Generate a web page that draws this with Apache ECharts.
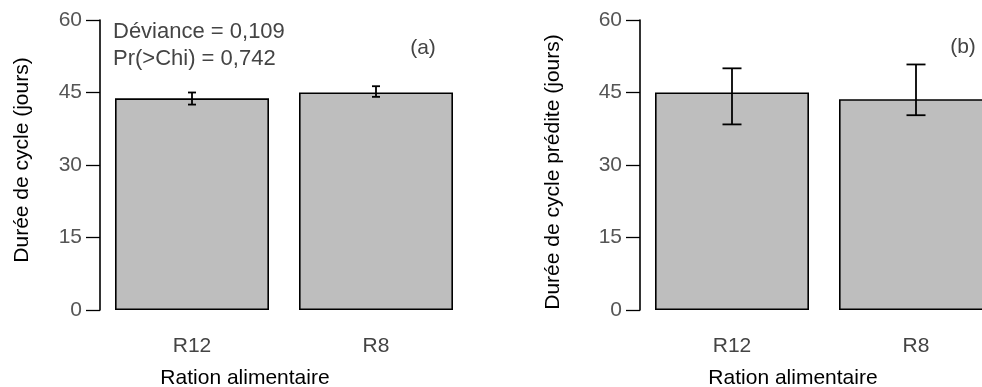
<!DOCTYPE html>
<html>
<head>
<meta charset="utf-8">
<script src="https://cdn.jsdelivr.net/npm/echarts@6/dist/echarts.min.js"></script>
<style>
  html, body { margin: 0; padding: 0; background: #fff; }
  #chart { width: 982px; height: 387px; }
</style>
</head>
<body>
<div id="chart"></div>
<script>
// Cycle duration by feed ration: observed (a) and model-predicted (b)
const categories = ['R12', 'R8'];
const yTicks = [0, 15, 30, 45, 60];

// Panel (a): observed cycle duration with error bars
const observedMean = [43.8, 45.0];
const observedLow = [42.5, 44.1];
const observedHigh = [45.0, 46.3];

// Panel (b): predicted cycle duration with error bars
const predictedMean = [45.0, 43.6];
const predictedLow = [38.4, 40.3];
const predictedHigh = [50.0, 50.8];

const statLines = ['Déviance = 0,109', 'Pr(>Chi) = 0,742'];

const FONT = 'Liberation Sans, Arial, sans-serif';
const FS = 21;

function errorSeries(gridIdx, low, high, capWidth) {
  return {
    type: 'custom',
    xAxisIndex: gridIdx,
    yAxisIndex: gridIdx,
    z: 5,
    data: low.map((l, i) => [i, l, high[i]]),
    renderItem: function (params, api) {
      const pLow = api.coord([api.value(0), api.value(1)]);
      const pHigh = api.coord([api.value(0), api.value(2)]);
      const x = pLow[0];
      const half = capWidth / 2;
      const style = { stroke: '#000', lineWidth: 1.8, fill: null };
      return {
        type: 'group',
        children: [
          { type: 'line', shape: { x1: x, y1: pLow[1], x2: x, y2: pHigh[1] }, style: style },
          { type: 'line', shape: { x1: x - half, y1: pLow[1], x2: x + half, y2: pLow[1] }, style: style },
          { type: 'line', shape: { x1: x - half, y1: pHigh[1], x2: x + half, y2: pHigh[1] }, style: style }
        ]
      };
    }
  };
}

function yAxisDef(gridIdx) {
  return {
    type: 'value',
    gridIndex: gridIdx,
    min: yTicks[0],
    max: yTicks[yTicks.length - 1],
    interval: yTicks[1] - yTicks[0],
    splitLine: { show: false },
    axisLine: { show: true, lineStyle: { color: '#000', width: 1.6 } },
    axisTick: { show: true, length: 14, lineStyle: { color: '#000', width: 1.3 } },
    axisLabel: { color: '#555', fontSize: FS, fontFamily: FONT, margin: 18 }
  };
}

function xAxisDef(gridIdx) {
  return {
    type: 'category',
    gridIndex: gridIdx,
    data: categories,
    axisLine: { show: false },
    axisTick: { show: false },
    axisLabel: { color: '#444', fontSize: FS, fontFamily: FONT, margin: 26 }
  };
}

function barSeries(gridIdx, values) {
  return {
    type: 'bar',
    xAxisIndex: gridIdx,
    yAxisIndex: gridIdx,
    data: values,
    barWidth: 154,
    itemStyle: { color: '#bebebe', borderColor: '#000', borderWidth: 1.6 },
    emphasis: { disabled: true }
  };
}

const chart = echarts.init(document.getElementById('chart'), null, { renderer: 'canvas' });

const annoFont = '22px ' + FONT;

chart.setOption({
  animation: false,
  backgroundColor: '#fff',
  grid: [
    { left: 100, top: 20, width: 368, height: 290, outerBoundsMode: 'none' },
    // panel (b) runs past the right edge of the canvas
    { left: 640, top: 20, width: 368, height: 290, outerBoundsMode: 'none' }
  ],
  xAxis: [xAxisDef(0), xAxisDef(1)],
  yAxis: [yAxisDef(0), yAxisDef(1)],
  series: [
    barSeries(0, observedMean),
    errorSeries(0, observedLow, observedHigh, 8),
    barSeries(1, predictedMean),
    errorSeries(1, predictedLow, predictedHigh, 19)
  ],
  graphic: [
    { type: 'text', left: 113, top: 21, style: { text: statLines[0], fill: '#444', font: annoFont } },
    { type: 'text', left: 113, top: 48, style: { text: statLines[1], fill: '#444', font: annoFont } },
    { type: 'text', x: 423, y: 48, style: { text: '(a)', fill: '#444', font: FS + 'px ' + FONT, align: 'center', verticalAlign: 'middle' } },
    { type: 'text', x: 963, y: 47, style: { text: '(b)', fill: '#444', font: FS + 'px ' + FONT, align: 'center', verticalAlign: 'middle' } },
    { type: 'text', x: 245, y: 378, style: { text: 'Ration alimentaire', fill: '#000', font: FS + 'px ' + FONT, align: 'center', verticalAlign: 'middle' } },
    { type: 'text', x: 793, y: 378, style: { text: 'Ration alimentaire', fill: '#000', font: FS + 'px ' + FONT, align: 'center', verticalAlign: 'middle' } },
    { type: 'text', x: 22, y: 160, rotation: Math.PI / 2, style: { text: 'Durée de cycle (jours)', fill: '#000', font: FS + 'px ' + FONT, align: 'center', verticalAlign: 'middle' } },
    { type: 'text', x: 553, y: 172, rotation: Math.PI / 2, style: { text: 'Durée de cycle prédite (jours)', fill: '#000', font: FS + 'px ' + FONT, align: 'center', verticalAlign: 'middle' } }
  ]
});
</script>
</body>
</html>
